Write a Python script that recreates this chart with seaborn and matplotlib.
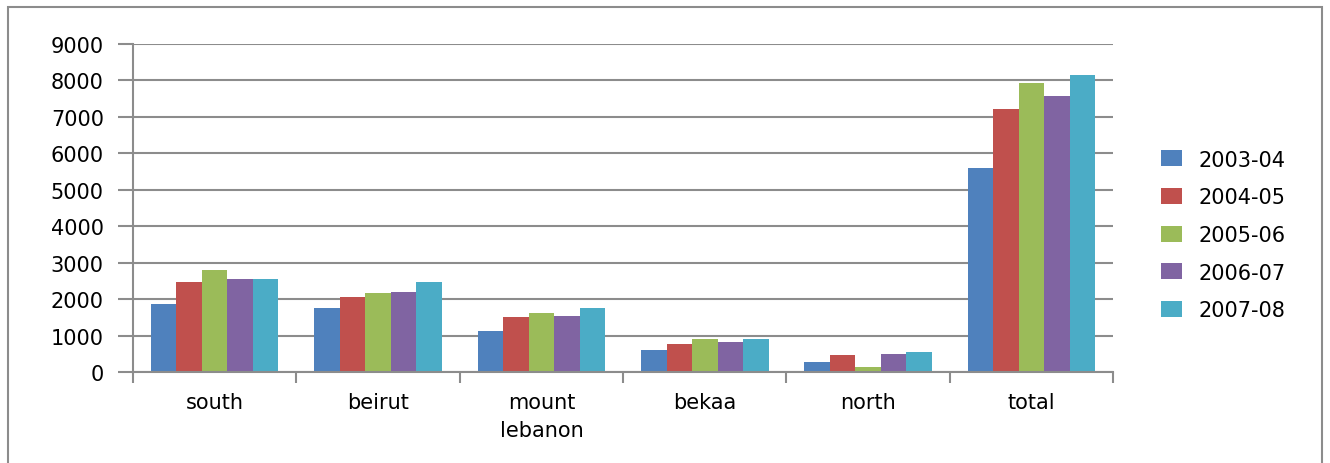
import matplotlib
matplotlib.use("Agg")
import matplotlib.pyplot as plt
import matplotlib.patches as mpatches
import pandas as pd
import seaborn as sns

regions = ["south", "beirut", "mount\nlebanon", "bekaa", "north", "total"]
years = ["2003-04", "2004-05", "2005-06", "2006-07", "2007-08"]
v_2003_04 = [1880, 1750, 1140, 615, 285, 5590]
v_2004_05 = [2460, 2050, 1520, 780, 480, 7210]
v_2005_06 = [2790, 2160, 1610, 920, 150, 7930]
v_2006_07 = [2540, 2190, 1550, 835, 505, 7570]
v_2007_08 = [2540, 2460, 1745, 920, 560, 8150]
colors = ["#4F81BD", "#C0504D", "#9BBB59", "#8064A2", "#4BACC6"]

series = [v_2003_04, v_2004_05, v_2005_06, v_2006_07, v_2007_08]
rows = []
for year, vals in zip(years, series):
    for region, v in zip(regions, vals):
        rows.append({"region": region, "year": year, "value": v})
df = pd.DataFrame(rows)

sns.set_theme(style="white")
plt.rcParams["font.family"] = ["DejaVu Sans"]
plt.rcParams["text.color"] = "black"
plt.rcParams["xtick.labelcolor"] = "black"
plt.rcParams["ytick.labelcolor"] = "black"

fig = plt.figure(figsize=(13.3, 4.64), dpi=100)
ax = fig.add_axes([0.1, 0.196, 0.737, 0.707])

sns.barplot(data=df, x="region", y="value", hue="year", order=regions,
            hue_order=years, palette=colors, width=0.78, saturation=1,
            errorbar=None, linewidth=0, ax=ax)

grid_c = "#8c8c8c"
ax.set_ylim(0, 9000)
ax.set_xlim(-0.5, 5.5)
ax.set_yticks(range(0, 9001, 1000))
ax.yaxis.grid(True, color=grid_c, linewidth=1.5)
ax.set_axisbelow(True)
for s in ["top", "right"]:
    ax.spines[s].set_visible(False)
for s in ["left", "bottom"]:
    ax.spines[s].set_color(grid_c)
    ax.spines[s].set_linewidth(1.5)
ax.set_xlabel("")
ax.set_ylabel("")
ax.tick_params(axis="y", which="major", length=11, color=grid_c, width=1.5,
               labelsize=15, pad=10, direction="out", left=True)
ax.tick_params(axis="x", which="major", length=0, labelsize=15, pad=14)
ax.set_xticks([i - 0.5 for i in range(7)], minor=True)
ax.tick_params(axis="x", which="minor", length=8, color=grid_c, width=1.5,
               direction="out", bottom=True)
for lab in ax.get_xticklabels():
    lab.set_linespacing(1.5)

leg = ax.legend(loc="center left", bbox_to_anchor=(1.03, 0.418), frameon=False,
                fontsize=15, labelspacing=0.85, handlelength=1.0,
                handleheight=0.8, handletextpad=0.8)

fig.patches.append(mpatches.Rectangle((8 / 1330, -0.02), 1314 / 1330, 1 - 8 / 464 + 0.02,
                                      transform=fig.transFigure, fill=False,
                                      edgecolor="#8c8c8c", linewidth=1.5))

fig.savefig("out.png", dpi=100)
